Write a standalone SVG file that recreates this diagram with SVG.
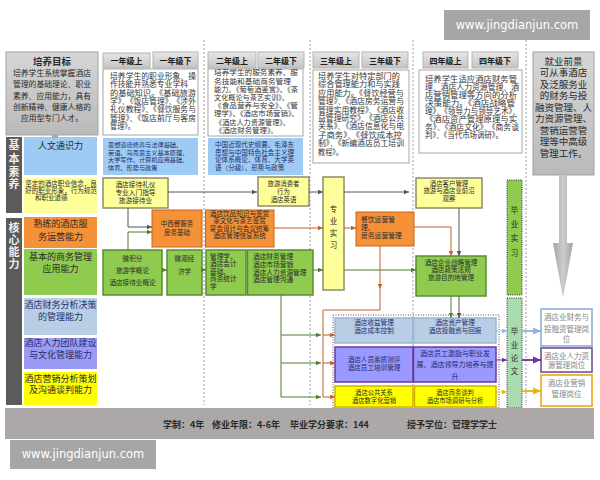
<svg xmlns="http://www.w3.org/2000/svg" width="600" height="480" viewBox="0 0 600 480">
<style>
text{font-family:"Noto Sans CJK SC","Noto Sans CJK JP","Noto Sans",sans-serif;fill:#2a2a2a}
.c{text-anchor:middle}
.wm{font-family:"DejaVu Sans","Liberation Sans",sans-serif;font-size:11.5px;fill:#fff;text-anchor:middle}
.ht{font-size:8px;font-weight:bold;text-anchor:middle;fill:#1e1e1e}
.hb{fill:url(#gh);stroke:#b3b3b3}
.db{fill:#fff;stroke:#a6a6a6}
.sep{fill:none;stroke:#9c9c9c;stroke-dasharray:2 2}
.bar{fill:#5b5b5b}
.vt{font-size:11px;font-weight:bold;text-anchor:middle;fill:#efefef}
.big{font-size:9px;text-anchor:middle}
.navy{fill:#1f2d6b}
.blue{fill:#9ecbf3}
.ly{fill:#ffff99;stroke:#8c8c6c;stroke-width:1.5}
.or{fill:#f59137;stroke:#c8641e}
.gr{fill:#8fcb4f;stroke:#5d8b35;stroke-width:1.5}
.rb{fill:#b9cde5;stroke:#9bb5d8;stroke-width:1.5}
.rp{fill:#9999ff;stroke:#6a3aa0;stroke-width:1.5}
.ry{fill:#ffff00;stroke:#d4b000;stroke-width:1.5}
.job{fill:#fff;stroke-width:1.8}
.jt{font-size:7.5px;text-anchor:middle;fill:#858585}
.k,.g,.o,.b,.p,.y{fill:none;stroke-width:1}
.k{stroke:#555}
.g{stroke:#4f7f2a}
.o{stroke:#c0602a}
.b{stroke:#8db3e2}
.p{stroke:#7030a0}
.y{stroke:#e8b400}
.dsh{stroke-dasharray:2 1.5}
.w{stroke-width:1.8}
.s62{font-size:6.2px}.s63{font-size:6.3px}.s64{font-size:6.4px}.s65{font-size:6.5px}.s66{font-size:6.6px}.s67{font-size:6.7px}.s68{font-size:6.8px}
.s7{font-size:7px}.s73{font-size:7.3px}.s75{font-size:7.5px}.s76{font-size:7.6px}.s95{font-size:9.5px}
.dt{fill:#333}
.bb{font-size:9px;font-weight:bold;fill:#2a2a2a}
</style>
<defs>
<linearGradient id="gh" x1="0" y1="0" x2="0" y2="1"><stop offset="0" stop-color="#e6e6e6"/><stop offset="1" stop-color="#c4c4c4"/></linearGradient>
<linearGradient id="gg" x1="0" y1="0" x2="0" y2="1"><stop offset="0" stop-color="#d6d6d6"/><stop offset="1" stop-color="#bababa"/></linearGradient>
<linearGradient id="ga" x1="0" y1="0" x2="1" y2="0"><stop offset="0" stop-color="#a4a4a4"/><stop offset="0.5" stop-color="#cdcdcd"/><stop offset="1" stop-color="#a4a4a4"/></linearGradient>
<marker id="mk" viewBox="0 0 10 10" refX="10" refY="5" markerWidth="5" markerHeight="5" markerUnits="userSpaceOnUse" orient="auto"><path d="M0,0.5L10,5L0,9.5z" fill="#555"/></marker>
<marker id="mg" viewBox="0 0 10 10" refX="10" refY="5" markerWidth="5" markerHeight="5" markerUnits="userSpaceOnUse" orient="auto"><path d="M0,0.5L10,5L0,9.5z" fill="#4f7f2a"/></marker>
<marker id="mo" viewBox="0 0 10 10" refX="10" refY="5" markerWidth="5" markerHeight="5" markerUnits="userSpaceOnUse" orient="auto"><path d="M0,0.5L10,5L0,9.5z" fill="#c0602a"/></marker>
<marker id="mb" viewBox="0 0 10 10" refX="10" refY="5" markerWidth="5" markerHeight="5" markerUnits="userSpaceOnUse" orient="auto"><path d="M0,0.5L10,5L0,9.5z" fill="#8db3e2"/></marker>
<marker id="mp" viewBox="0 0 10 10" refX="10" refY="5" markerWidth="5" markerHeight="5" markerUnits="userSpaceOnUse" orient="auto"><path d="M0,0.5L10,5L0,9.5z" fill="#7030a0"/></marker>
<marker id="my" viewBox="0 0 10 10" refX="10" refY="5" markerWidth="5" markerHeight="5" markerUnits="userSpaceOnUse" orient="auto"><path d="M0,0.5L10,5L0,9.5z" fill="#e8b400"/></marker>
<marker id="mB" viewBox="0 0 10 10" refX="10" refY="5" markerWidth="8" markerHeight="8" markerUnits="userSpaceOnUse" orient="auto"><path d="M0,0.5L10,5L0,9.5z" fill="#8db3e2"/></marker>
<marker id="mP" viewBox="0 0 10 10" refX="10" refY="5" markerWidth="8" markerHeight="8" markerUnits="userSpaceOnUse" orient="auto"><path d="M0,0.5L10,5L0,9.5z" fill="#7030a0"/></marker>
<marker id="mY" viewBox="0 0 10 10" refX="10" refY="5" markerWidth="8" markerHeight="8" markerUnits="userSpaceOnUse" orient="auto"><path d="M0,0.5L10,5L0,9.5z" fill="#e8b400"/></marker>
</defs>
<rect width="600" height="480" fill="#fff"/>

<g id="separators">
<path class="sep" d="M204,40V405M310,40V405M413,40V405M526,40V405"/>
</g>

<g id="watermark-top"><rect x="444" y="10" width="146" height="30" fill="#a6a6a6"/><text class="wm" x="517" y="28.5">www.jingdianjun.com</text></g>
<g id="watermark-bottom"><rect x="10" y="440" width="146" height="29" fill="#a6a6a6"/><text class="wm" x="83" y="458">www.jingdianjun.com</text></g>

<g id="goal">
<rect x="6" y="52" width="92" height="83" fill="url(#gg)" stroke="#a3a3a3"/>
<text x="52" y="64.5" class="c s95" font-weight="bold">培养目标</text>
<text x="52" y="75.9" class="c s76" textLength="78" lengthAdjust="spacingAndGlyphs">培养学生系统掌握酒店</text>
<text x="52" y="87.2" class="c s76" textLength="78" lengthAdjust="spacingAndGlyphs">管理的基础理论、职业</text>
<text x="52" y="98.5" class="c s76" textLength="78" lengthAdjust="spacingAndGlyphs">素养、应用能力，具有</text>
<text x="52" y="109.9" class="c s76" textLength="78" lengthAdjust="spacingAndGlyphs">创新精神、健康人格的</text>
<text x="52" y="121.2" class="c s76" textLength="62" lengthAdjust="spacingAndGlyphs">应用型专门人才。</text>
</g>

<g id="hdr-1a"><rect class="hb" x="103" y="53" width="47" height="15"/><text class="ht" x="126.5" y="63.5">一年级上</text></g>
<g id="hdr-1b"><rect class="hb" x="153" y="52" width="45" height="16"/><text class="ht" x="175.5" y="63.5">一年级下</text></g>
<g id="hdr-2a"><rect class="hb" x="208" y="52" width="48" height="16"/><text class="ht" x="232" y="63.5">二年级上</text></g>
<g id="hdr-2b"><rect class="hb" x="258" y="52" width="46" height="16"/><text class="ht" x="281" y="63.5">二年级下</text></g>
<g id="hdr-3a"><rect class="hb" x="313" y="52" width="46" height="16"/><text class="ht" x="336" y="63.5">三年级上</text></g>
<g id="hdr-3b"><rect class="hb" x="362" y="52" width="46" height="16"/><text class="ht" x="385" y="63.5">三年级下</text></g>
<g id="hdr-4a"><rect class="hb" x="423" y="52" width="45" height="16"/><text class="ht" x="445.5" y="63.5">四年级上</text></g>
<g id="hdr-4b"><rect class="hb" x="472" y="52" width="46" height="16"/><text class="ht" x="495" y="63.5">四年级下</text></g>

<g id="desc-1">
<rect class="db" x="103" y="69" width="95" height="66"/>
<text class="s76 dt" x="110" y="79" textLength="86" lengthAdjust="spacingAndGlyphs">培养学生的职业形象、操</text>
<text class="s76 dt" x="110" y="87.3" textLength="78" lengthAdjust="spacingAndGlyphs">作技能并熟悉专业学科</text>
<text class="s76 dt" x="110" y="95.7" textLength="86" lengthAdjust="spacingAndGlyphs">的基础知识。《基础旅游</text>
<text class="s76 dt" x="110" y="104" textLength="86" lengthAdjust="spacingAndGlyphs">学》、《饭店管理》、《涉外</text>
<text class="s76 dt" x="110" y="112.3" textLength="86" lengthAdjust="spacingAndGlyphs">礼仪教程》、《餐饮服务与</text>
<text class="s76 dt" x="110" y="120.7" textLength="86" lengthAdjust="spacingAndGlyphs">管理》、《饭店前厅与客房</text>
<text class="s76 dt" x="110" y="129" textLength="25" lengthAdjust="spacingAndGlyphs">管理》。</text>
</g>

<g id="desc-2">
<rect class="db" x="208" y="69" width="95" height="67"/>
<text class="s73 dt" x="214" y="75.4" textLength="84" lengthAdjust="spacingAndGlyphs">培养学生的服务素养、服</text>
<text class="s73 dt" x="214" y="83.6" textLength="77" lengthAdjust="spacingAndGlyphs">务技能和基础商务管理</text>
<text class="s73 dt" x="214" y="91.8" textLength="84" lengthAdjust="spacingAndGlyphs">能力。《葡萄酒鉴赏》、《茶</text>
<text class="s73 dt" x="214" y="100" textLength="75" lengthAdjust="spacingAndGlyphs">文化概论与茶艺实训》、</text>
<text class="s73 dt" x="214" y="108.2" textLength="84" lengthAdjust="spacingAndGlyphs">《食品营养与安全》、《管</text>
<text class="s73 dt" x="214" y="116.4" textLength="85" lengthAdjust="spacingAndGlyphs">理学》、《酒店市场营销》、</text>
<text class="s73 dt" x="215" y="124.6" textLength="75" lengthAdjust="spacingAndGlyphs">《酒店人力资源管理》、</text>
<text class="s73 dt" x="215" y="132.8" textLength="63" lengthAdjust="spacingAndGlyphs">《酒店财务管理》。</text>
</g>

<g id="desc-3">
<rect class="db" x="313" y="70" width="96" height="93"/>
<text class="s76 dt" x="318" y="79" textLength="82" lengthAdjust="spacingAndGlyphs">培养学生对特定部门的</text>
<text class="s76 dt" x="318" y="87.4" textLength="82" lengthAdjust="spacingAndGlyphs">综合管理能力和与实践</text>
<text class="s76 dt" x="318" y="95.8" textLength="86" lengthAdjust="spacingAndGlyphs">应用能力。《餐饮经营与</text>
<text class="s76 dt" x="318" y="104.2" textLength="86" lengthAdjust="spacingAndGlyphs">管理》、《酒店房务运营与</text>
<text class="s76 dt" x="318" y="112.6" textLength="86" lengthAdjust="spacingAndGlyphs">管理实用教程》、《酒店收</text>
<text class="s76 dt" x="318" y="121" textLength="86" lengthAdjust="spacingAndGlyphs">益管理研究》、《酒店公共</text>
<text class="s76 dt" x="318" y="129.4" textLength="86" lengthAdjust="spacingAndGlyphs">关系》、《酒店信息化与电</text>
<text class="s76 dt" x="318" y="137.8" textLength="84" lengthAdjust="spacingAndGlyphs">子商务》、《餐饮成本控</text>
<text class="s76 dt" x="318" y="146.2" textLength="86" lengthAdjust="spacingAndGlyphs">制》、《新编酒店员工培训</text>
<text class="s76 dt" x="318" y="154.6" textLength="25" lengthAdjust="spacingAndGlyphs">教程》。</text>
</g>

<g id="desc-4">
<rect class="db" x="419" y="70" width="103" height="83"/>
<text class="s76 dt" x="425" y="82.1" textLength="92" lengthAdjust="spacingAndGlyphs">培养学生适应酒店财务管</text>
<text class="s76 dt" x="425" y="90.1" textLength="94" lengthAdjust="spacingAndGlyphs">理、酒店人力资源管理、酒</text>
<text class="s76 dt" x="425" y="98.1" textLength="92" lengthAdjust="spacingAndGlyphs">店营销管理等方向的分析</text>
<text class="s76 dt" x="425" y="106.1" textLength="90" lengthAdjust="spacingAndGlyphs">决策能力。《酒店战略管</text>
<text class="s76 dt" x="425" y="114.1" textLength="95" lengthAdjust="spacingAndGlyphs">理》、《领导力与领导艺术》、</text>
<text class="s76 dt" x="425" y="122.1" textLength="92" lengthAdjust="spacingAndGlyphs">《酒店资产管理原理与实</text>
<text class="s76 dt" x="425" y="130.1" textLength="94" lengthAdjust="spacingAndGlyphs">务》、《酒店文化》、《商务谈</text>
<text class="s76 dt" x="425" y="138.1" textLength="78" lengthAdjust="spacingAndGlyphs">判》、《当代市场调研》。</text>
</g>

<g id="employment">
<rect x="533" y="52" width="61" height="123" fill="url(#gg)" stroke="#a0a0a0"/>
<text class="c s95" x="563.5" y="64.5">就业前景</text>
<text class="c s95" x="563.5" y="76">可从事酒店</text>
<text class="c s95" x="563.5" y="87.5">及泛服务业</text>
<text class="c s95" x="563.5" y="99">的财务与投</text>
<text class="c s95" x="563.5" y="110.5">融资管理、人</text>
<text class="c s95" x="563.5" y="122">力资源管理、</text>
<text class="c s95" x="563.5" y="133.5">营销运营管</text>
<text class="c s95" x="563.5" y="145">理等中高级</text>
<text class="c s95" x="563.5" y="156.5">管理工作。</text>
</g>
<g id="employment-arrow"><path d="M559,175H567V243H573L563,298L553,243H559Z" fill="url(#ga)"/></g>

<g id="label-basic"><rect class="bar" x="6" y="137" width="16" height="76"/>
<text class="vt" x="14" y="149">基</text><text class="vt" x="14" y="162.5">本</text><text class="vt" x="14" y="175.5">素</text><text class="vt" x="14" y="188">养</text></g>
<g id="label-core"><rect class="bar" x="6" y="218" width="16" height="187"/>
<text class="vt" x="14" y="232">核</text><text class="vt" x="14" y="244">心</text><text class="vt" x="14" y="256">能</text><text class="vt" x="14" y="268">力</text></g>

<g id="ab-humanities"><rect class="blue" x="24" y="137" width="73" height="38"/><text class="big" x="60.5" y="149.3">人文通识力</text></g>
<g id="ab-ethics"><rect x="24" y="178" width="73" height="35" fill="#ffff99"/>
<text class="c s65" x="61" y="185.7">坚定的酒店职业信念，良</text>
<text class="c s65" x="61" y="193.4">好的职业形象，行为规范</text>
<text class="s65" x="35" y="200.1">和职业道德</text></g>
<g id="ab-service"><rect x="24" y="217" width="73" height="31" fill="#f59137"/><text class="big" x="60.5" y="227.3">熟练的酒店服</text><text class="big" x="60.5" y="240.3">务运营能力</text></g>
<g id="ab-business"><rect x="24" y="249" width="73" height="46" fill="#8fcb4f"/><text class="big" x="60.5" y="260.3">基本的商务管理</text><text class="big" x="60.5" y="272.3">应用能力</text></g>
<g id="ab-finance"><rect x="24" y="298" width="73" height="37" fill="#b9cde5"/><text class="big navy" x="60.5" y="307.6">酒店财务分析决策</text><text class="big navy" x="60.5" y="320.3">的管理能力</text></g>
<g id="ab-hr"><rect x="24" y="338" width="73" height="31" fill="#9b9bf5"/><text class="big navy" x="60.5" y="346">酒店人力团队建设</text><text class="big navy" x="60.5" y="358.3">与文化管理能力</text></g>
<g id="ab-marketing"><rect x="24" y="372" width="73" height="33" fill="#ffff00"/><text class="big" x="60.5" y="381.6">酒店营销分析策划</text><text class="big" x="60.5" y="393.3">及沟通谈判能力</text></g>

<g id="gen-1"><rect class="blue" x="103" y="138" width="95" height="37"/>
<text class="s62 navy" x="108" y="147.3">思想道德修养与法律基础、</text>
<text class="s62 navy" x="108" y="154.8">英语、马克思主义基本原理、</text>
<text class="s62 navy" x="108" y="162.3">大学写作、计算机应用基础、</text>
<text class="s62 navy" x="108" y="169.8">体育、形势与政策</text></g>
<g id="gen-2"><rect class="blue" x="208" y="138" width="95" height="37"/>
<text class="s66 navy" x="215" y="147.4">中国近现代史纲要、毛泽东</text>
<text class="s66 navy" x="215" y="154.9">思想与中国特色社会主义理</text>
<text class="s66 navy" x="215" y="162.4">论体系概论、体育、大学英</text>
<text class="s66 navy" x="215" y="169.9">语（分级）、形势与政策</text></g>

<g id="c-etiquette"><rect class="ly" x="103" y="178" width="65" height="30"/>
<text class="c s67" x="135.5" y="186.5">酒店接待礼仪</text><text class="c s67" x="135.5" y="194.5">专业入门指导</text><text class="c s67" x="135.5" y="202.5">旅游接待业</text></g>
<g id="c-consumer"><rect class="ly" x="258" y="177" width="51" height="29"/>
<text class="c s64" x="283.5" y="186.4">旅游消费者</text><text class="c s64" x="283.5" y="194.1">行为</text><text class="c s64" x="283.5" y="201.7">酒店英语</text></g>
<g id="c-internship"><rect class="ly" x="323" y="177" width="21" height="113"/>
<text class="c s75" x="333.5" y="211.8">专</text><text class="c s75" x="333.5" y="223.8">业</text><text class="c s75" x="333.5" y="235.8">实</text><text class="c s75" x="333.5" y="247.8">习</text></g>
<g id="c-customer"><rect class="ly" x="416" y="178" width="66" height="30"/>
<text class="c s64" x="449" y="185.7">酒店客户管理</text><text class="c s64" x="449" y="193.4">旅游与酒店业前沿</text><text class="c s64" x="449" y="201.4">观察</text></g>

<g id="c-catering"><rect class="or" x="152" y="210" width="50" height="37"/>
<text class="c s65" x="177" y="226.4">中西餐服务</text><text class="c s65" x="177" y="234.9">房务基础</text></g>
<g id="c-beverage"><rect class="or" x="205.5" y="210" width="68.5" height="37"/>
<text class="c s66" x="239.5" y="215.9">酒店饮品知识与鉴赏</text><text class="c s66" x="239.5" y="223.4">茶文化与茶艺鉴赏</text><text class="c s66" x="239.5" y="230.9">宴会设计与会议统筹</text><text class="c s66" x="239.5" y="238.4">酒店管理信息系统</text></g>
<g id="c-fbops"><rect class="or" x="356" y="212" width="58" height="34"/>
<text class="s68" x="361" y="221.8">餐饮运营管</text><text class="s68" x="361" y="230.2">理、</text><text class="s68" x="361" y="237.5">房务运营管理</text></g>

<g id="c-calculus"><rect class="gr" x="103" y="250" width="59" height="45"/>
<text class="c s66" x="132.5" y="261.4">微积分</text><text class="c s66" x="132.5" y="273.4">旅游学概论</text><text class="c s66" x="132.5" y="285.4">酒店接待业概论</text></g>
<g id="c-micro"><rect class="gr" x="167" y="250" width="35" height="45"/>
<text class="c s66" x="184.5" y="261.4">微观经</text><text class="c s66" x="184.5" y="274.4">济学</text></g>
<g id="c-management"><rect class="gr" x="206" y="250" width="40" height="45"/>
<text class="s67" x="210" y="258.5">管理学，</text><text class="s67" x="210" y="266">酒店会计</text><text class="s67" x="210" y="273.5">基础、</text><text class="s67" x="210" y="281">商务统计</text><text class="s67" x="210" y="288.5">学</text></g>
<g id="c-hotelmgmt"><rect class="gr" x="247.5" y="250" width="65.5" height="45"/>
<text class="s67" x="253" y="258.5">酒店财务管理</text><text class="s67" x="253" y="266.5">酒店市场营销</text><text class="s67" x="253" y="274.5">酒店人力资源管理</text><text class="s67" x="253" y="282">酒店管理沟通</text></g>
<g id="c-strategy"><rect class="gr" x="416" y="256" width="70" height="40"/>
<text class="c s66" x="451" y="265.1">酒店企业战略管理</text><text class="c s66" x="451" y="272.4">酒店政策法规</text><text class="c s66" x="451" y="280.1">旅游目的地管理</text></g>

<g id="group-advanced"><rect x="333" y="315" width="166" height="93" fill="none" stroke="#555" stroke-dasharray="1 1.5"/></g>
<g id="c-revenue"><rect class="rb" x="335" y="318" width="78" height="25"/>
<text class="c s66 navy" x="374" y="325.4">酒店收益管理</text><text class="c s66 navy" x="374" y="333.4">酒店成本控制</text></g>
<g id="c-asset"><rect class="rb" x="413.5" y="318" width="82.5" height="25"/>
<text class="c s66 navy" x="455" y="325.4">酒店资产管理</text><text class="c s66 navy" x="455" y="333.4">酒店投融资与回报</text></g>
<g id="c-assessment"><rect class="rp" x="335" y="347" width="78" height="35"/>
<text class="c s66 navy" x="374" y="362.4">酒店人员素质测评</text><text class="c s66 navy" x="374" y="370.4">酒店员工培训管理</text></g>
<g id="c-incentive"><rect class="rp" x="413.5" y="347" width="82.5" height="35"/>
<text class="c s7 navy" x="455" y="355.9">酒店员工激励与职业发</text><text class="c s7 navy" x="455" y="366.9">展、酒店领导力培养与提</text><text class="c s7 navy" x="455" y="378.6">升</text></g>
<g id="c-pr"><rect class="ry" x="335" y="386" width="78" height="21"/>
<text class="c s63" x="374" y="395.3">酒店公共关系</text><text class="c s63" x="374" y="402.8">酒店数字化营销</text></g>
<g id="c-negotiation"><rect class="ry" x="414.5" y="386" width="81.5" height="21"/>
<text class="c s63" x="455" y="395.3">酒店商务谈判</text><text class="c s63" x="455" y="402.8">酒店市场调研与分析</text></g>

<g id="grad-internship"><rect x="507" y="180" width="15" height="115" fill="#8fcb4f" stroke="#333" stroke-dasharray="1 1.2"/>
<text class="c s75" x="514.5" y="212.8">毕</text><text class="c s75" x="514.5" y="226.8">业</text><text class="c s75" x="514.5" y="241.3">实</text><text class="c s75" x="514.5" y="255.8">习</text></g>
<g id="grad-thesis"><rect x="507" y="298" width="15" height="110" fill="#a8dcae" stroke="#333" stroke-dasharray="1 1.2"/>
<text class="c s75" x="514.5" y="333.8">毕</text><text class="c s75" x="514.5" y="347.8">业</text><text class="c s75" x="514.5" y="360.8">论</text><text class="c s75" x="514.5" y="373.8">文</text></g>

<g id="job-finance"><rect class="job" x="541" y="309" width="51" height="37" stroke="#9bb7dc"/>
<text class="jt" x="566.5" y="319.8">酒店业财务与</text><text class="jt" x="566.5" y="331.8">投融资管理岗</text><text class="jt" x="566.5" y="342.3">位</text></g>
<g id="job-hr"><rect class="job" x="541" y="348" width="51" height="24" stroke="#8064a2"/>
<text class="jt" x="566.5" y="358.8">酒店业人力资</text><text class="jt" x="566.5" y="367.8">源管理岗位</text></g>
<g id="job-marketing"><rect class="job" x="541" y="375" width="51" height="31" stroke="#f0b030"/>
<text class="jt" x="566.5" y="385.8">酒店业营销</text><text class="jt" x="566.5" y="396.8">管理岗位</text></g>

<g id="connectors">
<path d="M55,134.5V138" stroke="#aaa" stroke-width="6" fill="none"/>
<path class="k" d="M168,192H257" marker-end="url(#mk)"/>
<path class="k" d="M309,192H323" marker-end="url(#mk)"/>
<path class="k" d="M344,192H409" marker-end="url(#mk)"/>
<path class="k" d="M128,208V227H152" marker-end="url(#mk)"/>
<path class="g" d="M128,250V232H152" marker-end="url(#mg)"/>
<path class="o" d="M274,228H323" marker-end="url(#mo)"/>
<path class="o" d="M344,228H356" marker-end="url(#mo)"/>
<path class="o" d="M414,227H451V256" marker-end="url(#mo)"/>
<path class="k" d="M459,208V256" marker-end="url(#mk)"/>
<path class="g" d="M162,270H167" marker-end="url(#mg)"/>
<path class="g" d="M202,270H206" marker-end="url(#mg)"/>
<path class="g" d="M313,270H323" marker-end="url(#mg)"/>
<path class="g" d="M344,270H416" marker-end="url(#mg)"/>
<path class="g" d="M451,296V318" marker-end="url(#mg)"/>
<path class="k" d="M459,296V318" marker-end="url(#mk)"/>
<path class="g" d="M281,295V397"/>
<path class="g" d="M281,335H321" marker-end="url(#mg)"/>
<path class="g" d="M281,363H321" marker-end="url(#mg)"/>
<path class="g" d="M281,397H321" marker-end="url(#mg)"/>
<path class="o" d="M380,246V289" marker-end="url(#mo)"/>
<path class="o" d="M380,289V310H323V397"/>
<path class="o" d="M323,335H335" marker-end="url(#mo)"/>
<path class="o" d="M323,363H335" marker-end="url(#mo)"/>
<path class="o" d="M323,397H335" marker-end="url(#mo)"/>
<path class="b dsh" d="M496,331H507" marker-end="url(#mb)"/>
<path class="p" d="M496,360H507" marker-end="url(#mp)"/>
<path class="y dsh" d="M496,392H507" marker-end="url(#my)"/>
<path class="b w" d="M522,331H541" marker-end="url(#mB)"/>
<path class="p w" d="M522,360H541" marker-end="url(#mP)"/>
<path class="y w" d="M522,391H541" marker-end="url(#mY)"/>
</g>

<g id="footer">
<rect x="5" y="408" width="589" height="31" fill="#aca8a8"/>
<text class="bb" x="163" y="428">学制：4年</text>
<text class="bb" x="212" y="428">修业年限：4-6年</text>
<text class="bb" x="290" y="428">毕业学分要求：144</text>
<text class="bb" x="407" y="428">授予学位：管理学学士</text>
</g>
</svg>
